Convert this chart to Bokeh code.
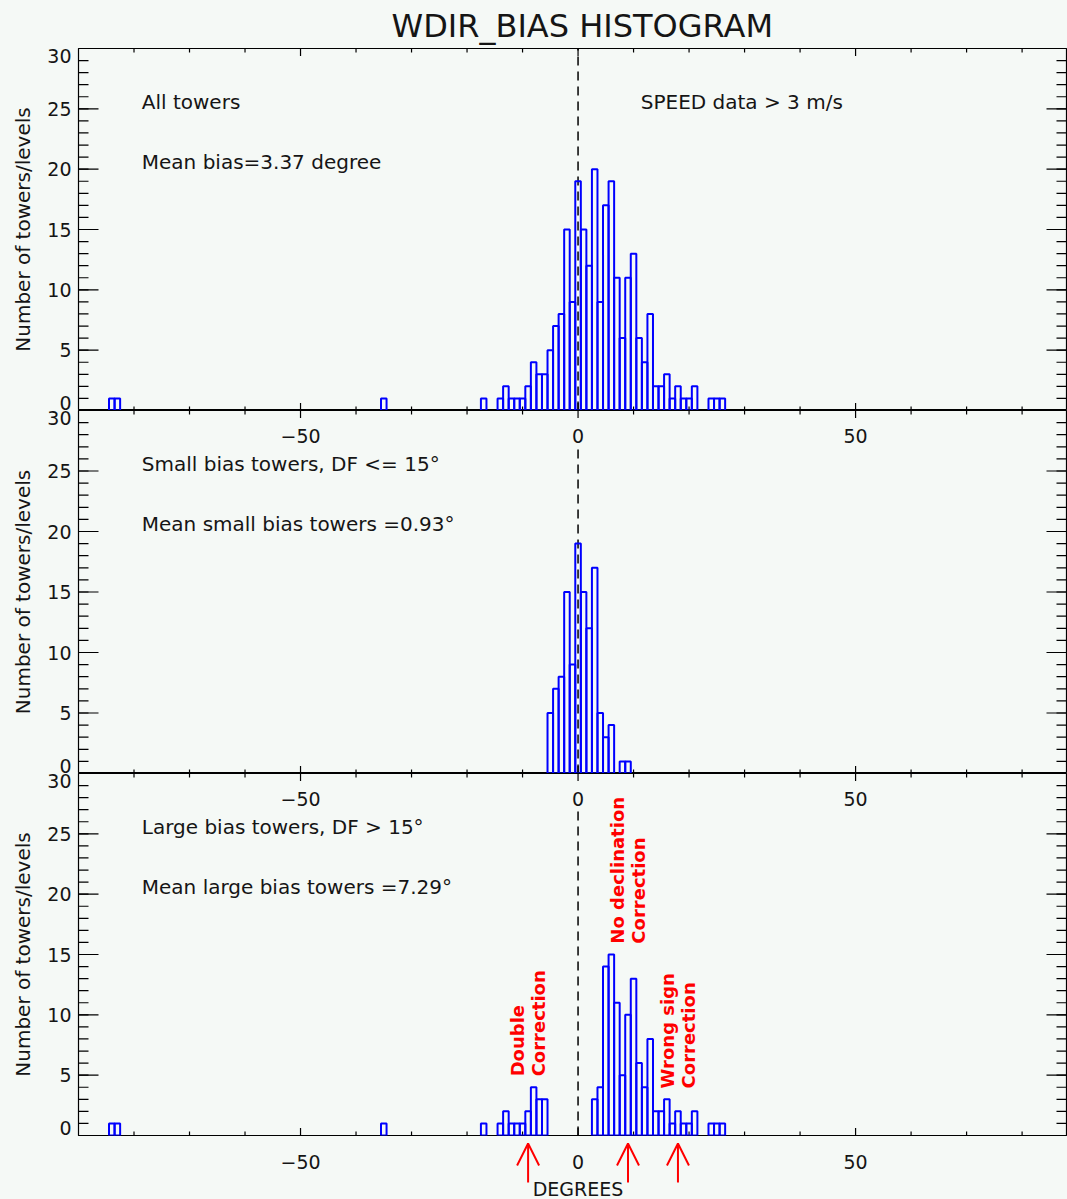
import math
from bokeh.plotting import figure
from bokeh.layouts import column, row
from bokeh.models import (Range1d, Arrow, OpenHead, ColumnDataSource)
from bokeh.core.properties import value
from bokeh.embed import file_html
from bokeh.resources import INLINE

# ---------------- data ----------------
all_bins = [-84, -83, -35, -17, -14, -13, -12, -11, -10, -9, -8, -7, -6, -5, -4, -3, -2, -1,
            0, 1, 2, 3, 4, 5, 6, 7, 8, 9, 10, 11, 12, 13, 14, 15, 16, 17, 18, 19, 20, 21,
            24, 25, 26]
all_counts = [1, 1, 1, 1, 1, 2, 1, 1, 1, 2, 4, 3, 3, 5, 7, 8, 15, 9,
              19, 15, 12, 20, 9, 17, 19, 11, 6, 11, 13, 6, 4, 8, 2, 2, 3, 1, 2, 1, 1, 2,
              1, 1, 1]

small_bins = [-5, -4, -3, -2, -1, 0, 1, 2, 3, 4, 5, 6, 8, 9]
small_counts = [5, 7, 8, 15, 9, 19, 15, 12, 17, 5, 3, 4, 1, 1]

large_bins = [-84, -83, -35, -17, -14, -13, -12, -11, -10, -9, -8, -7, -6,
              3, 4, 5, 6, 7, 8, 9, 10, 11, 12, 13, 14, 15, 16, 17, 18, 19, 20, 21,
              24, 25, 26]
large_counts = [1, 1, 1, 1, 1, 2, 1, 1, 1, 2, 4, 3, 3,
                3, 4, 14, 15, 11, 5, 10, 13, 6, 4, 8, 2, 2, 3, 1, 2, 1, 1, 2,
                1, 1, 1]

bin_width = 1.0

x_major_ticks = [-50, 0, 50]
x_tick_labels = ["\u221250", "0", "50"]
x_minor_ticks = [-80, -70, -60, -40, -30, -20, -10, 10, 20, 30, 40, 60, 70, 80]
y_major_ticks = [0, 5, 10, 15, 20, 25, 30]
y_tick_labels = ["0", "5", "10", "15", "20", "25", "30"]
y_minor_ticks = list(range(0, 31))
y_title = "Number of towers/levels"

top_notes = ["All towers", "Mean bias=3.37 degree", "SPEED data > 3 m/s"]
mid_notes = ["Small bias towers, DF <= 15\u00b0", "Mean small bias towers =0.93\u00b0"]
low_notes = ["Large bias towers, DF > 15\u00b0", "Mean large bias towers =7.29\u00b0"]

annot_x = [-9, 9, 18]
annot_text = ["Double\nCorrection", "No declination\nCorrection", "Wrong sign\nCorrection"]

# ---------------- styling / layout ----------------
BG = "#f5f9f6"
INK = "#151515"
BLUE = "#0000ff"
RED = "#ff0000"
FONT = "DejaVu Sans"
X0, X1 = -90, 88
YMAX = 30
LEFT_W = 77
PAGE_H = 1199
STRIP_H = 63
# (figure height, top border, bottom border) of the three panels
PANEL_BOX = [(410, 48, 0), (363, 0, 0), (363, 0, 1)]

xr = Range1d(X0, X1)

note_pos_top = [(-78.6, 25.6), (-78.6, 20.6), (11.3, 25.6)]
note_pos = [(-78.6, 25.6), (-78.6, 20.6)]


def base_fig(width, height, xrange, yrange, top=0, bottom=0, left=0, right=0, outline=None):
    return figure(width=width, height=height, x_range=xrange, y_range=yrange,
                  x_axis_type=None, y_axis_type=None,
                  output_backend="svg", toolbar_location=None,
                  min_border_left=left, min_border_right=right,
                  min_border_top=top, min_border_bottom=bottom,
                  background_fill_color=BG, border_fill_color=BG,
                  outline_line_color=outline, outline_line_width=1.2)


def make_panel(bins, counts, notes, positions, box, zero_top, title=None):
    height, top_border, bottom_border = box
    p = base_fig(1067 - LEFT_W, height, xr, Range1d(0, YMAX), top=top_border,
                 bottom=bottom_border, left=1, right=1, outline="black")
    if title:
        p.title.text = title
        p.title.align = "left"
        p.title.offset = 313
        p.title.text_font = FONT
        p.title.text_font_style = "normal"
        p.title.text_font_size = "32px"
        p.title.text_color = INK
        p.title.standoff = 8

    # inward ticks on all four edges (markers centred on the edge, frame clips outer half)
    for yy in (0, YMAX):
        p.scatter(x=x_minor_ticks, y=[yy] * len(x_minor_ticks), marker="dash",
                  angle=math.pi / 2, size=8, line_color="black", line_width=1.2)
        p.scatter(x=x_major_ticks, y=[yy] * len(x_major_ticks), marker="dash",
                  angle=math.pi / 2, size=15, line_color="black", line_width=1.2)
    for xx in (X0, X1):
        p.scatter(x=[xx] * len(y_minor_ticks), y=y_minor_ticks, marker="dash",
                  size=20, line_color="black", line_width=1.2)
        p.scatter(x=[xx] * len(y_major_ticks), y=y_major_ticks, marker="dash",
                  size=40, line_color="black", line_width=1.2)

    # zero line
    p.segment(x0=[0], y0=[0], x1=[0], y1=[zero_top],
              line_color="black", line_width=1.5, line_dash="9 6")

    # histogram outlines
    src = ColumnDataSource(dict(
        left=[b - bin_width / 2 for b in bins],
        right=[b + bin_width / 2 for b in bins],
        top=counts,
        bottom=[0] * len(bins)))
    p.quad(left="left", right="right", top="top", bottom="bottom", source=src,
           fill_color=None, line_color=BLUE, line_width=2)

    p.text(x=[q[0] for q in positions], y=[q[1] for q in positions], text=notes,
           text_font=value(FONT), text_font_size="20px", text_color=INK,
           text_baseline="middle", text_align="left")
    return p


def add_xlabels(p):
    # x tick labels of the panel above, drawn just under the shared boundary
    p.text(x=x_major_ticks, y=[YMAX] * len(x_major_ticks), text=x_tick_labels,
           y_offset=25, text_font=value(FONT), text_font_size="19px",
           text_color=INK, text_align="center", text_baseline="middle")


p_top = make_panel(all_bins, all_counts, top_notes, note_pos_top, PANEL_BOX[0], YMAX,
                   title="WDIR_BIAS HISTOGRAM")
p_mid = make_panel(small_bins, small_counts, mid_notes, note_pos, PANEL_BOX[1], YMAX - 3)
p_low = make_panel(large_bins, large_counts, low_notes, note_pos, PANEL_BOX[2], YMAX - 3)
add_xlabels(p_mid)
add_xlabels(p_low)

# red annotations in the bottom panel
p_low.text(x=annot_x, y=[4.9, 15.9, 3.9], text=annot_text, angle=math.pi / 2,
           text_font=value(FONT), text_font_size="18px", text_font_style="bold",
           text_color=RED, text_align="left", text_baseline="middle",
           text_line_height=1.0)

# strip under the bottom panel: tick labels, axis title and arrows
strip = base_fig(1067 - LEFT_W, STRIP_H, xr, Range1d(0, STRIP_H), left=1, right=1)
strip.text(x=x_major_ticks, y=[38] * len(x_major_ticks), text=x_tick_labels,
           text_font=value(FONT), text_font_size="19px", text_color=INK,
           text_align="center", text_baseline="middle")
strip.text(x=[0], y=[11], text=["DEGREES"],
           text_font=value(FONT), text_font_size="19px", text_color=INK,
           text_align="center", text_baseline="middle")
arrow_src = ColumnDataSource(dict(x=annot_x, y0=[17] * len(annot_x), y1=[56] * len(annot_x)))
strip.add_layout(Arrow(end=OpenHead(size=22, line_color=RED, line_width=2),
                       x_start="x", y_start="y0", x_end="x", y_end="y1", source=arrow_src,
                       line_color=RED, line_width=2))

# ---- one tall strip on the left with the y tick labels and y titles of all panels ----
lab = base_fig(LEFT_W, PAGE_H, Range1d(0, LEFT_W), Range1d(0, PAGE_H))
ranges = {}
page_top = 0
for i, (h, tb, bb) in enumerate(PANEL_BOX):
    f_top = page_top + tb
    f_bot = page_top + h - bb
    s = YMAX / (f_bot - f_top)
    ranges["panel%d" % i] = Range1d(-(PAGE_H - f_bot) * s, YMAX + f_top * s)
    page_top += h
lab.extra_y_ranges = ranges

end_off = [0] * len(y_major_ticks)
end_off[0] = -8
end_off[-1] = 7
for name in ranges:
    lab.text(x=[LEFT_W - 6] * len(y_major_ticks), y=y_major_ticks, text=y_tick_labels,
             y_offset=end_off, y_range_name=name,
             text_font=value(FONT), text_font_size="19px", text_color=INK,
             text_align="right", text_baseline="middle")
    lab.text(x=[22], y=[YMAX / 2], text=[y_title], angle=math.pi / 2, y_range_name=name,
             text_font=value(FONT), text_font_size="20px", text_color=INK,
             text_align="center", text_baseline="middle")

layout = row(lab, column(p_top, p_mid, p_low, strip, spacing=0), spacing=0)
layout.styles = {"background-color": BG}
open("out.html", "w").write(file_html(layout, INLINE))
